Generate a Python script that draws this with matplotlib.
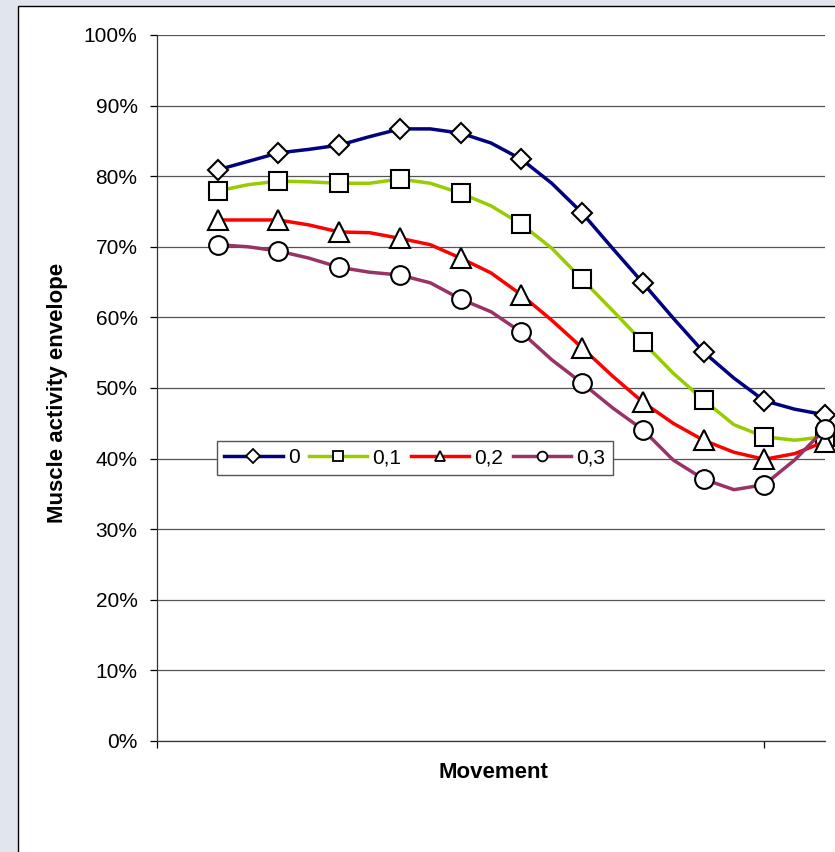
import matplotlib

matplotlib.use("Agg")
import matplotlib.pyplot as plt
from matplotlib.patches import Rectangle
from matplotlib.ticker import FuncFormatter, MultipleLocator

# sample index along the movement; every second sample carries a marker
samples = list(range(2, 23))

series_names = ["0", "0,1", "0,2", "0,3"]
envelope_0 = [80.9, 82.1, 83.3, 83.8, 84.4, 85.6, 86.7, 86.7, 86.1, 84.7, 82.4,
              79.0, 74.8, 69.8, 64.9, 59.9, 55.1, 51.4, 48.2, 47.0, 46.2]
envelope_01 = [77.9, 78.8, 79.3, 79.2, 79.0, 79.0, 79.6, 79.0, 77.6, 75.8, 73.2,
               69.8, 65.4, 61.0, 56.5, 52.1, 48.3, 44.8, 43.1, 42.6, 43.1]
envelope_02 = [73.8, 73.8, 73.8, 73.1, 72.1, 72.0, 71.2, 70.3, 68.4, 66.3, 63.2,
               59.6, 55.7, 51.7, 48.0, 45.0, 42.6, 40.9, 39.9, 40.7, 42.4]
envelope_03 = [70.3, 70.0, 69.4, 68.4, 67.1, 66.4, 66.0, 64.9, 62.6, 60.8, 57.9,
               54.0, 50.7, 47.2, 44.1, 39.8, 37.1, 35.6, 36.3, 39.8, 44.2]

COLORS = ["#000080", "#99cc00", "#ff0000", "#993366"]
MARKERS = [("D", 10.0), ("s", 13.5), ("^", 14.0), ("o", 13.5)]

W, H = 835, 852

plt.rcParams.update({
    "font.family": ["Liberation Sans", "DejaVu Sans"],
    "font.size": 15,
})

fig = plt.figure(figsize=(W / 100, H / 100), dpi=100, facecolor="#e1e5ee")
# white chart area with a thin black frame (runs off the right and bottom edges)
fig.patches.append(Rectangle((18 / W, -0.2), 1.2, 1.2 - 6 / H, transform=fig.transFigure,
                             facecolor="white", edgecolor="black", linewidth=1.0, zorder=-5))

ax = fig.add_axes([157 / W, 1 - 741 / H, (825 - 157) / W, (741 - 35) / H])
ax.set_zorder(2)
ax.set_facecolor("none")

for values, name, color, (marker, size) in zip(
        [envelope_0, envelope_01, envelope_02, envelope_03], series_names, COLORS, MARKERS):
    ax.plot(samples, [v / 100 for v in values], color=color, lw=2.5, label=name,
            marker=marker, markersize=size, markevery=slice(0, None, 2),
            markerfacecolor="white", markeredgecolor="black", markeredgewidth=1.5,
            clip_on=False, zorder=3)

ax.set_xlim(0, 22)
ax.set_ylim(0, 1.0)
ax.yaxis.set_major_locator(MultipleLocator(0.1))
ax.yaxis.set_major_formatter(FuncFormatter(lambda v, _: f"{v * 100:.0f}%"))
ax.set_xticks([0, 20], ["", ""])
ax.grid(axis="y", color="#555555", lw=0.9)
ax.set_axisbelow(True)
ax.tick_params(axis="y", length=5, width=0.9, pad=9, labelsize=15, direction="out")
ax.tick_params(axis="x", length=5, width=0.9, direction="out")
for side in ("top", "right"):
    ax.spines[side].set_visible(False)
for side in ("left", "bottom"):
    ax.spines[side].set_color("#333333")
    ax.spines[side].set_linewidth(0.9)

fig.text(57 / W, 1 - 393 / H, "Muscle activity envelope", rotation=90, ha="center", va="center",
         fontsize=16, fontweight="bold")
fig.text(493 / W, 1 - 772 / H, "Movement", ha="center", va="center", fontsize=16, fontweight="bold")

legend = ax.legend(loc="upper left", bbox_to_anchor=(217 / W, 1 - 441 / H),
                   bbox_transform=fig.transFigure, ncol=4, frameon=True, fancybox=False,
                   edgecolor="#555555", framealpha=1.0, fontsize=15, handlelength=2.8,
                   handletextpad=0.25, columnspacing=0.45, borderpad=0.35, borderaxespad=0)
legend.get_frame().set_linewidth(1.0)
for handle in legend.legend_handles:
    handle.set_markersize(7)
    handle.set_markeredgewidth(1.3)

fig.savefig("out.png", dpi=100, facecolor=fig.get_facecolor())
